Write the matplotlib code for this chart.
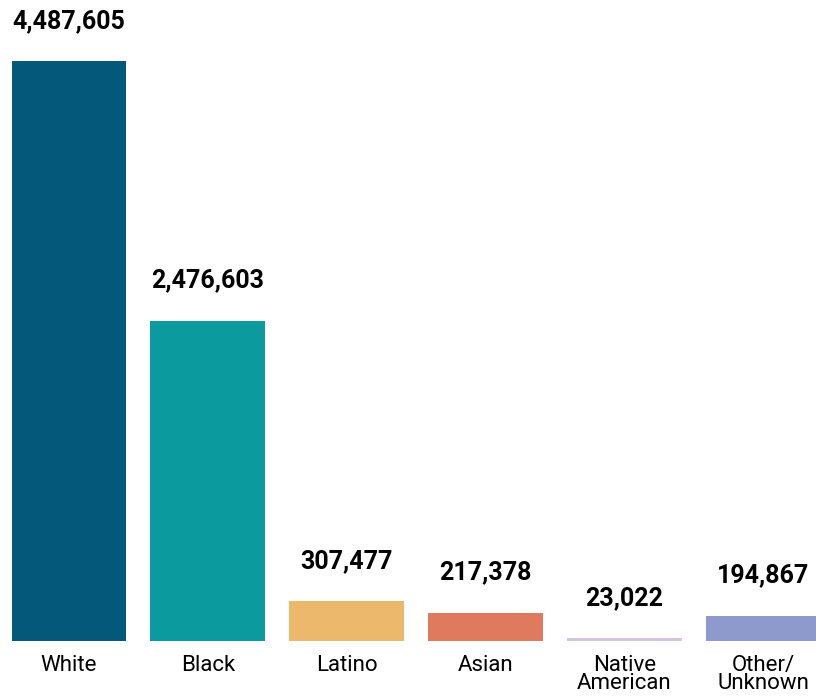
import matplotlib
matplotlib.use("Agg")
from matplotlib import pyplot as plt

# data
categories = ["White", "Black", "Latino", "Asian", "Native\nAmerican", "Other/\nUnknown"]
values = [4487605, 2476603, 307477, 217378, 23022, 194867]
colors = ["#04587a", "#0b9a9e", "#ebb86c", "#e07a5f", "#d6c3de", "#8e9acb"]

plt.rcParams['font.family'] = ['Roboto', 'DejaVu Sans']

fig = plt.figure(figsize=(8.16, 6.96), dpi=100)
# axes fills width, baseline at 641px from top
ax = fig.add_axes([0, 55 / 696, 1, 641 / 696])

x = list(range(len(categories)))
bars = ax.bar(x, values, width=0.828, color=colors, linewidth=0)

# value labels above each bar
for b, v in zip(bars, values):
    ax.annotate(f"{v:,}", (b.get_x() + b.get_width() / 2, b.get_height()),
                xytext=(0, 29), textcoords="offset points",
                ha="center", va="center", fontsize=18, fontweight="bold",
                color="black")

ax.set_xlim(-69 / 138.8, (816 - 69) / 138.8)
ax.set_ylim(0, 641 / 580 * values[0])

ax.set_xticks(x)
ax.set_xticklabels(categories, fontsize=16, linespacing=0.85)
ax.tick_params(axis="x", length=0, pad=10)
ax.set_yticks([])
for s in ax.spines.values():
    s.set_visible(False)

fig.savefig("out.png", dpi=100)
